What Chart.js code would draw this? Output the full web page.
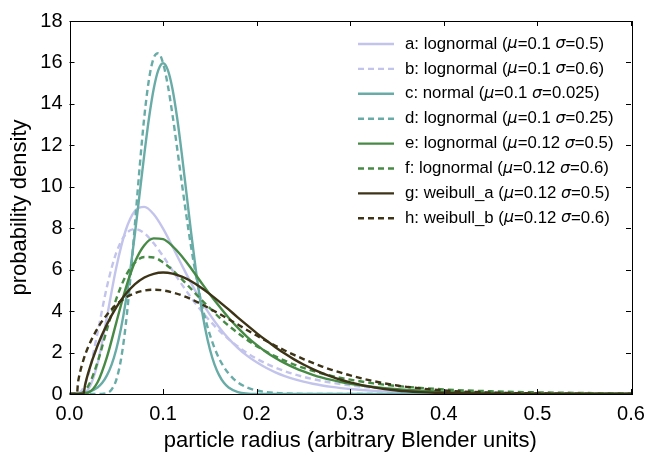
<!DOCTYPE html>
<html>
<head>
<meta charset="utf-8">
<script src="https://cdn.jsdelivr.net/npm/chart.js@4.4.1/dist/chart.umd.min.js"></script>
<style>
  html, body { margin: 0; padding: 0; background: #fff; }
  #wrap { width: 646px; height: 452px; }
</style>
</head>
<body>
<div id="wrap"><canvas id="dist" width="646" height="452"></canvas></div>
<script>
// values
const labels = [
    'a: lognormal (μ=0.1 σ=0.5)',
    'b: lognormal (μ=0.1 σ=0.6)',
    'c: normal (μ=0.1 σ=0.025)',
    'd: lognormal (μ=0.1 σ=0.25)',
    'e: lognormal (μ=0.12 σ=0.5)',
    'f: lognormal (μ=0.12 σ=0.6)',
    'g: weibull_a (μ=0.12 σ=0.5)',
    'h: weibull_b (μ=0.12 σ=0.6)'
];

const xLog = [0, 0.01, 0.02, 0.03, 0.04, 0.05, 0.06, 0.07, 0.08, 0.09, 0.10,
    0.11, 0.12, 0.13, 0.14, 0.15, 0.16, 0.17, 0.18, 0.19, 0.20,
    0.21, 0.22, 0.23, 0.24, 0.25, 0.26, 0.27, 0.28, 0.29, 0.30,
    0.325, 0.35, 0.40, 0.45, 0.50, 0.55, 0.60];
const yA = [0, 0.002, 0.225, 1.465, 3.72, 6.11, 7.89, 8.84, 9.03, 8.67, 7.98,
    7.12, 6.22, 5.35, 4.54, 3.83, 3.21, 2.67, 2.22, 1.84, 1.527,
    1.264, 1.046, 0.866, 0.718, 0.595, 0.494, 0.411, 0.342, 0.285, 0.238,
    0.152, 0.099, 0.043, 0.019, 0.009, 0.004, 0.002];
const yB = [0, 0.042, 0.911, 2.96, 5.18, 6.82, 7.71, 7.96, 7.76, 7.27, 6.65,
    5.97, 5.29, 4.65, 4.06, 3.53, 3.06, 2.65, 2.29, 1.97, 1.706,
    1.474, 1.274, 1.103, 0.955, 0.829, 0.720, 0.626, 0.545, 0.475, 0.415,
    0.297, 0.215, 0.115, 0.064, 0.036, 0.021, 0.013];
const yE = [0, 0, 0.065, 0.570, 1.784, 3.446, 5.09, 6.38, 7.18, 7.51, 7.47,
    7.14, 6.65, 6.06, 5.43, 4.81, 4.23, 3.68, 3.19, 2.75, 2.37,
    2.03, 1.74, 1.488, 1.272, 1.087, 0.928, 0.793, 0.678, 0.580, 0.496,
    0.337, 0.230, 0.110, 0.054, 0.027, 0.014, 0.0075];
const yF = [0, 0.013, 0.385, 1.536, 3.11, 4.59, 5.69, 6.35, 6.61, 6.59, 6.35,
    5.98, 5.54, 5.07, 4.59, 4.14, 3.70, 3.30, 2.94, 2.61, 2.31,
    2.05, 1.814, 1.606, 1.421, 1.259, 1.115, 0.988, 0.876, 0.778, 0.691,
    0.515, 0.387, 0.222, 0.131, 0.079, 0.048, 0.030];

const xC = [0, 0.02, 0.03, 0.035, 0.04, 0.045, 0.05, 0.055, 0.06, 0.065, 0.07,
    0.075, 0.08, 0.085, 0.09, 0.095, 0.10, 0.105, 0.11, 0.115, 0.12,
    0.125, 0.13, 0.135, 0.14, 0.145, 0.15, 0.155, 0.16, 0.165, 0.17,
    0.18, 0.20, 0.60];
const yC = [0, 0.095, 0.317, 0.54, 0.90, 1.42, 2.16, 3.16, 4.44, 5.99, 7.77,
    9.68, 11.59, 13.33, 14.73, 15.64, 15.96, 15.64, 14.73, 13.33, 11.59,
    9.68, 7.77, 5.99, 4.44, 3.16, 2.16, 1.42, 0.90, 0.54, 0.317,
    0.095, 0.005, 0];

const xD = [0, 0.03, 0.035, 0.04, 0.045, 0.05, 0.055, 0.06, 0.065, 0.07,
    0.075, 0.08, 0.085, 0.09, 0.095, 0.10, 0.105, 0.11, 0.115, 0.12,
    0.125, 0.13, 0.135, 0.14, 0.145, 0.15, 0.155, 0.16, 0.165, 0.17,
    0.175, 0.18, 0.19, 0.20, 0.21, 0.22, 0.23, 0.24, 0.25, 0.30, 0.60];
const yD = [0, 0, 0.007, 0.048, 0.216, 0.684, 1.663, 3.30, 5.56, 8.24,
    10.97, 13.40, 15.20, 16.22, 16.45, 15.96, 14.91, 13.49, 11.87, 10.19,
    8.57, 7.08, 5.75, 4.61, 3.65, 2.86, 2.215, 1.704, 1.301, 0.988,
    0.744, 0.559, 0.311, 0.171, 0.093, 0.050, 0.027, 0.014, 0.008, 0.0005, 0];

const xG = [0, 0.015, 0.0165, 0.02, 0.03, 0.04, 0.05, 0.06, 0.07, 0.08, 0.09, 0.10,
    0.11, 0.12, 0.13, 0.14, 0.15, 0.16, 0.17, 0.18, 0.19, 0.20,
    0.21, 0.22, 0.23, 0.24, 0.25, 0.26, 0.27, 0.28, 0.29, 0.30,
    0.325, 0.35, 0.375, 0.40, 0.45, 0.50, 0.60];
const yG = [0, 0, 0.40, 1.02, 2.34, 3.36, 4.18, 4.82, 5.30, 5.62, 5.80, 5.86,
    5.81, 5.66, 5.44, 5.15, 4.82, 4.46, 4.08, 3.69, 3.31, 2.94,
    2.59, 2.26, 1.95, 1.67, 1.425, 1.204, 1.007, 0.837, 0.688, 0.563,
    0.32, 0.17, 0.09, 0.045, 0.011, 0.002, 0];

const xH = [0, 0.008, 0.009, 0.01, 0.015, 0.02, 0.03, 0.04, 0.05, 0.06, 0.07, 0.08, 0.09, 0.10,
    0.11, 0.12, 0.13, 0.14, 0.15, 0.16, 0.17, 0.18, 0.19, 0.20,
    0.21, 0.22, 0.23, 0.24, 0.25, 0.26, 0.27, 0.28, 0.29, 0.30,
    0.325, 0.35, 0.375, 0.40, 0.45, 0.50, 0.55, 0.60];
const yH = [0, 0, 0.52, 0.79, 1.66, 2.27, 3.17, 3.83, 4.31, 4.65, 4.87, 4.99, 5.03, 5.00,
    4.90, 4.76, 4.58, 4.36, 4.12, 3.87, 3.61, 3.35, 3.08, 2.82,
    2.57, 2.33, 2.10, 1.886, 1.685, 1.498, 1.326, 1.169, 1.027, 0.898,
    0.62, 0.41, 0.27, 0.17, 0.068, 0.025, 0.009, 0.003];

const xTicks = [0, 0.1, 0.2, 0.3, 0.4, 0.5, 0.6];
const yTicks = [0, 2, 4, 6, 8, 10, 12, 14, 16, 18];

function pts(xs, ys) {
    return xs.map((x, i) => ({ x: x, y: ys[i] }));
}

const lavender = '#c3c4ec';
const teal = '#69aca7';
const green = '#478a46';
const brown = '#3d3316';
const dash = [6, 4];

const series = [
    { data: pts(xLog, yA), color: lavender, dashed: false },
    { data: pts(xLog, yB), color: lavender, dashed: true },
    { data: pts(xC, yC), color: teal, dashed: false },
    { data: pts(xD, yD), color: teal, dashed: true },
    { data: pts(xLog, yE), color: green, dashed: false },
    { data: pts(xLog, yF), color: green, dashed: true },
    { data: pts(xG, yG), color: brown, dashed: false },
    { data: pts(xH, yH), color: brown, dashed: true }
];

const datasets = series.map((s, i) => ({
    label: labels[i],
    data: s.data,
    borderColor: s.color,
    backgroundColor: s.color,
    borderWidth: 2.4,
    borderDash: s.dashed ? dash : [],
    pointRadius: 0,
    fill: false,
    cubicInterpolationMode: 'monotone',
    order: series.length - i
}));

// matplotlib-like frame with inward ticks on all four sides
const framePlugin = {
    id: 'frame',
    afterDatasetsDraw(chart) {
        const ctx = chart.ctx;
        const a = chart.chartArea;
        const xs = chart.scales.x, ys = chart.scales.y;
        const len = 5;
        ctx.save();
        ctx.strokeStyle = '#000';
        ctx.lineWidth = 1;
        ctx.beginPath();
        xTicks.forEach(v => {
            const px = Math.round(xs.getPixelForValue(v)) + 0.5;
            ctx.moveTo(px, a.bottom); ctx.lineTo(px, a.bottom - len);
            ctx.moveTo(px, a.top); ctx.lineTo(px, a.top + len);
        });
        yTicks.forEach(v => {
            const py = Math.round(ys.getPixelForValue(v)) + 0.5;
            ctx.moveTo(a.left, py); ctx.lineTo(a.left + len, py);
            ctx.moveTo(a.right, py); ctx.lineTo(a.right - len, py);
        });
        ctx.stroke();
        ctx.strokeRect(Math.round(a.left) + 0.5, Math.round(a.top) + 0.5,
            Math.round(a.right - a.left), Math.round(a.bottom - a.top));
        ctx.restore();
    }
};

// legend without frame, greek letters in italic like mathtext
const legendPlugin = {
    id: 'mplLegend',
    afterDatasetsDraw(chart) {
        const ctx = chart.ctx;
        ctx.save();
        chart.data.datasets.forEach((ds, i) => {
            const y = 44 + i * 24.9;
            ctx.strokeStyle = ds.borderColor;
            ctx.lineWidth = 2.4;
            ctx.setLineDash(ds.borderDash);
            ctx.beginPath();
            ctx.moveTo(358, y);
            ctx.lineTo(394, y);
            ctx.stroke();
            ctx.setLineDash([]);

            let x = 405;
            ctx.textBaseline = 'middle';
            ctx.fillStyle = '#000';
            ds.label.split(/([μσ])/).forEach(part => {
                if (!part) return;
                const greek = part === 'μ' || part === 'σ';
                ctx.font = greek ? "italic 15.8px 'DejaVu Sans'" : "16.8px 'Liberation Sans'";
                ctx.fillText(part, x, y);
                x += ctx.measureText(part).width;
            });
        });
        ctx.restore();
    }
};

Chart.defaults.font.family = "'Liberation Sans', Arial, sans-serif";
Chart.defaults.color = '#000';

new Chart(document.getElementById('dist'), {
    type: 'line',
    data: { datasets: datasets },
    options: {
        responsive: false,
        animation: false,
        layout: { padding: { top: 21, right: 15, left: 0, bottom: 0 } },
        plugins: {
            legend: { display: false },
            tooltip: { enabled: false }
        },
        scales: {
            x: {
                type: 'linear',
                min: 0,
                max: 0.6,
                afterBuildTicks: s => { s.ticks = xTicks.map(v => ({ value: v })); },
                afterFit: s => { s.height = 58; s.paddingLeft = 0; s.paddingRight = 0; },
                ticks: {
                    font: { size: 20 },
                    color: '#000',
                    padding: 8,
                    maxRotation: 0,
                    autoSkip: false,
                    callback: v => v.toFixed(1)
                },
                grid: { display: false, drawTicks: false },
                border: { display: false },
                title: {
                    display: true,
                    text: 'particle radius (arbitrary Blender units)',
                    font: { size: 22, lineHeight: 1 },
                    color: '#000',
                    padding: { top: 0, bottom: 0 }
                }
            },
            y: {
                type: 'linear',
                min: 0,
                max: 18,
                afterBuildTicks: s => { s.ticks = yTicks.map(v => ({ value: v })); },
                afterFit: s => { s.width = 69.5; s.paddingTop = 0; s.paddingBottom = 0; },
                ticks: {
                    font: { size: 20 },
                    color: '#000',
                    padding: 7,
                    autoSkip: false,
                    callback: v => String(v)
                },
                grid: { display: false, drawTicks: false },
                border: { display: false },
                title: {
                    display: true,
                    text: 'probability density',
                    font: { size: 22, lineHeight: 1 },
                    color: '#000',
                    padding: { top: 9, bottom: 0 }
                }
            }
        }
    },
    plugins: [framePlugin, legendPlugin]
});
</script>
</body>
</html>
